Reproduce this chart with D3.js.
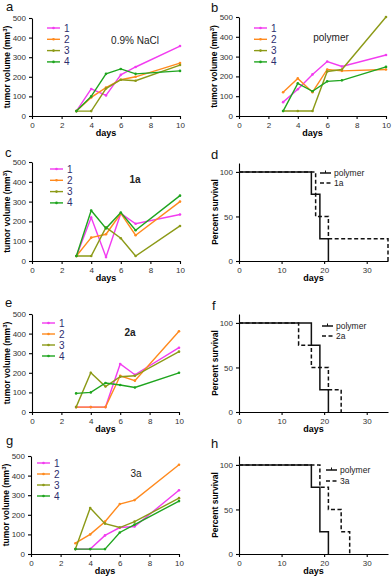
<!DOCTYPE html>
<html>
<head>
<meta charset="utf-8">
<script src="https://cdn.jsdelivr.net/npm/d3@7"></script>
<style>
  body { margin: 0; background: #fff; }
  svg { display: block; font-family: Arial, "Liberation Sans", sans-serif; }
  .axis text { font-size: 8px; fill: #333; }
  .axis path, .axis line { stroke: #000; stroke-width: 1.1; }
</style>
</head>
<body>
<svg id="chart" width="392" height="579"></svg>
<script>
const days = [3, 4, 5, 6, 7, 10]
const mouseIds = ['1', '2', '3', '4']
const mouseColors = ['#f23cf0', '#ff8a1e', '#8c9a17', '#1fa51f']

const volNaCl = [
  [25, 138, 105, 210, 250, 357],
  [25, 95, 145, 185, 200, 270],
  [25, 25, 140, 185, 180, 260],
  [25, 100, 215, 240, 215, 230]
]
const volPolymer = [
  [70, 135, 210, 275, 250, 308],
  [120, 190, 120, 235, 228, 235],
  [25, 25, 25, 225, 235, 500],
  [25, 165, 125, 175, 180, 248]
]
const vol1a = [
  [25, 220, 20, 240, 188, 235],
  [25, 118, 135, 240, 130, 300],
  [25, 25, 170, 115, 25, 177],
  [25, 255, 165, 245, 155, 330]
]
const vol2a = [
  [25, 25, 25, 245, 190, 328],
  [25, 25, 25, 185, 160, 412],
  [25, 200, 130, 180, 185, 308],
  [95, 100, 148, 138, 125, 200]
]
const vol3a = [
  [25, 25, 95, 135, 140, 325],
  [55, 100, 165, 255, 275, 455],
  [25, 235, 155, 135, 165, 285],
  [25, 25, 25, 110, 150, 270]
]

const polymerTimes = [0, 17, 19, 21]
const polymerPct = [100, 75, 25, 0]
const times1a = [0, 18, 21, 35]
const pct1a = [100, 50, 25, 0]
const times2a = [0, 14, 17, 21, 24]
const pct2a = [100, 75, 50, 25, 0]
const times3a = [0, 19, 21, 24, 26]
const pct3a = [100, 75, 50, 25, 0]

const svg = d3.select('#chart')

function tumorPanel({ letter, letterPos, left, right, top, bottom, data, title, titlePos, titleBold, legend }) {
  const x = d3.scaleLinear().domain([0, 10]).range([left, right])
  const y = d3.scaleLinear().domain([0, 500]).range([bottom, top])
  const g = svg.append('g')

  g.append('text').attr('x', letterPos[0]).attr('y', letterPos[1])
    .attr('font-size', 13).attr('fill', '#111').text(letter)

  g.append('g').attr('class', 'axis').attr('transform', `translate(0,${bottom})`)
    .call(d3.axisBottom(x).tickValues([0, 2, 4, 6, 8, 10]).tickSize(3).tickSizeOuter(0))
  g.append('g').attr('class', 'axis').attr('transform', `translate(${left},0)`)
    .call(d3.axisLeft(y).tickValues([0, 100, 200, 300, 400, 500]).tickSize(3).tickSizeOuter(0))

  g.append('text').attr('x', (left + right) / 2).attr('y', bottom + 20)
    .attr('text-anchor', 'middle').attr('font-size', 9).attr('font-weight', 'bold').text('days')
  const yl = g.append('text')
    .attr('transform', `translate(${left - 22},${(top + bottom) / 2}) rotate(-90)`)
    .attr('text-anchor', 'middle').attr('font-size', 8.5).attr('font-weight', 'bold')
  yl.append('tspan').text('tumor volume (mm')
  yl.append('tspan').attr('font-size', 6).attr('dy', -3).text('3')
  yl.append('tspan').attr('dy', 3).text(')')

  g.append('text').attr('x', titlePos[0]).attr('y', titlePos[1])
    .attr('text-anchor', 'middle').attr('font-size', 10)
    .attr('font-weight', titleBold ? 'bold' : 'normal').attr('fill', '#222').text(title)

  const line = d3.line().x((d, i) => x(days[i])).y((d) => y(d))
  data.forEach((vals, k) => {
    g.append('path').datum(vals).attr('d', line)
      .attr('fill', 'none').attr('stroke', mouseColors[k]).attr('stroke-width', 1.4)
    g.selectAll(null).data(vals).enter().append('circle')
      .attr('cx', (d, i) => x(days[i])).attr('cy', (d) => y(d)).attr('r', 1.3)
      .attr('fill', mouseColors[k])
  })

  const lg = g.append('g')
  mouseIds.forEach((id, k) => {
    const ly = legend.y + k * legend.dy
    lg.append('line').attr('x1', legend.x).attr('x2', legend.x + 13)
      .attr('y1', ly).attr('y2', ly).attr('stroke', mouseColors[k]).attr('stroke-width', 1.4)
    lg.append('circle').attr('cx', legend.x + 6.5).attr('cy', ly).attr('r', 1.3).attr('fill', mouseColors[k])
    lg.append('text').attr('x', legend.x + 17).attr('y', ly + 3.5)
      .attr('font-size', 10).attr('fill', '#2d2d6e').text(id)
  })
}

function survivalPanel({ letter, letterPos, left, right, top, bottom, times, pct, name, legend }) {
  const x = d3.scaleLinear().domain([0, 35]).range([left, right])
  const y = d3.scaleLinear().domain([0, 110]).range([bottom, top])
  const g = svg.append('g')

  g.append('text').attr('x', letterPos[0]).attr('y', letterPos[1])
    .attr('font-size', 13).attr('fill', '#111').text(letter)

  g.append('g').attr('class', 'axis').attr('transform', `translate(0,${bottom})`)
    .call(d3.axisBottom(x).tickValues([0, 10, 20, 30]).tickSize(3).tickSizeOuter(0))
  g.append('g').attr('class', 'axis').attr('transform', `translate(${left},0)`)
    .call(d3.axisLeft(y).tickValues([0, 50, 100]).tickSize(3).tickSizeOuter(0))

  g.append('text').attr('x', (left + right) / 2).attr('y', bottom + 20)
    .attr('text-anchor', 'middle').attr('font-size', 9).attr('font-weight', 'bold').text('days')
  g.append('text')
    .attr('transform', `translate(${left - 21},${(top + bottom) / 2}) rotate(-90)`)
    .attr('text-anchor', 'middle').attr('font-size', 8.5).attr('font-weight', 'bold').text('Percent survival')

  const step = d3.line().curve(d3.curveStepAfter).x((d) => x(d[0])).y((d) => y(d[1]))
  g.append('path').datum(d3.zip(polymerTimes, polymerPct)).attr('d', step)
    .attr('fill', 'none').attr('stroke', '#111').attr('stroke-width', 1.5)
  g.append('path').datum(d3.zip(times, pct)).attr('d', step)
    .attr('fill', 'none').attr('stroke', '#111').attr('stroke-width', 1.5).attr('stroke-dasharray', '4,2.5')

  const rows = [['polymer', null], [name, '4,2.5']]
  rows.forEach(([label, dash], k) => {
    const ly = legend.y + k * legend.dy
    g.append('line').attr('x1', legend.x).attr('x2', legend.x + 11).attr('y1', ly).attr('y2', ly)
      .attr('stroke', '#111').attr('stroke-width', 1.5).attr('stroke-dasharray', dash)
    if (!dash) {
      g.append('line').attr('x1', legend.x + 5.5).attr('x2', legend.x + 5.5)
        .attr('y1', ly - 2.5).attr('y2', ly).attr('stroke', '#111').attr('stroke-width', 1)
    }
    g.append('text').attr('x', legend.x + 14).attr('y', ly + 3).attr('font-size', 8.5)
      .attr('fill', '#222').text(label)
  })
}

tumorPanel({ letter: 'a', letterPos: [6, 11], left: 32, right: 180, top: 18, bottom: 116,
  data: volNaCl, title: '0.9% NaCl', titlePos: [135, 44], titleBold: false,
  legend: { x: 47, y: 28, dy: 11.3 } })
tumorPanel({ letter: 'b', letterPos: [211, 12], left: 239, right: 386, top: 17, bottom: 116,
  data: volPolymer, title: 'polymer', titlePos: [331, 41], titleBold: false,
  legend: { x: 254, y: 28, dy: 11.3 } })
tumorPanel({ letter: 'c', letterPos: [5, 157], left: 32, right: 180, top: 162, bottom: 261,
  data: vol1a, title: '1a', titlePos: [135, 183], titleBold: true,
  legend: { x: 50, y: 169, dy: 11.3 } })
survivalPanel({ letter: 'd', letterPos: [211, 159], left: 239, right: 388, top: 163, bottom: 261,
  times: times1a, pct: pct1a, name: '1a', legend: { x: 320, y: 173, dy: 10 } })
tumorPanel({ letter: 'e', letterPos: [5, 307], left: 32, right: 179, top: 314, bottom: 412,
  data: vol2a, title: '2a', titlePos: [130, 336], titleBold: true,
  legend: { x: 42, y: 323, dy: 11 } })
survivalPanel({ letter: 'f', letterPos: [212, 310], left: 239, right: 388, top: 314, bottom: 412,
  times: times2a, pct: pct2a, name: '2a', legend: { x: 322, y: 326, dy: 10 } })
tumorPanel({ letter: 'g', letterPos: [6, 445], left: 31, right: 179, top: 456, bottom: 554,
  data: vol3a, title: '3a', titlePos: [136, 477], titleBold: false,
  legend: { x: 37, y: 463, dy: 11 } })
survivalPanel({ letter: 'h', letterPos: [211, 448], left: 239, right: 388, top: 456, bottom: 554,
  times: times3a, pct: pct3a, name: '3a', legend: { x: 326, y: 470, dy: 11 } })
</script>
</body>
</html>
